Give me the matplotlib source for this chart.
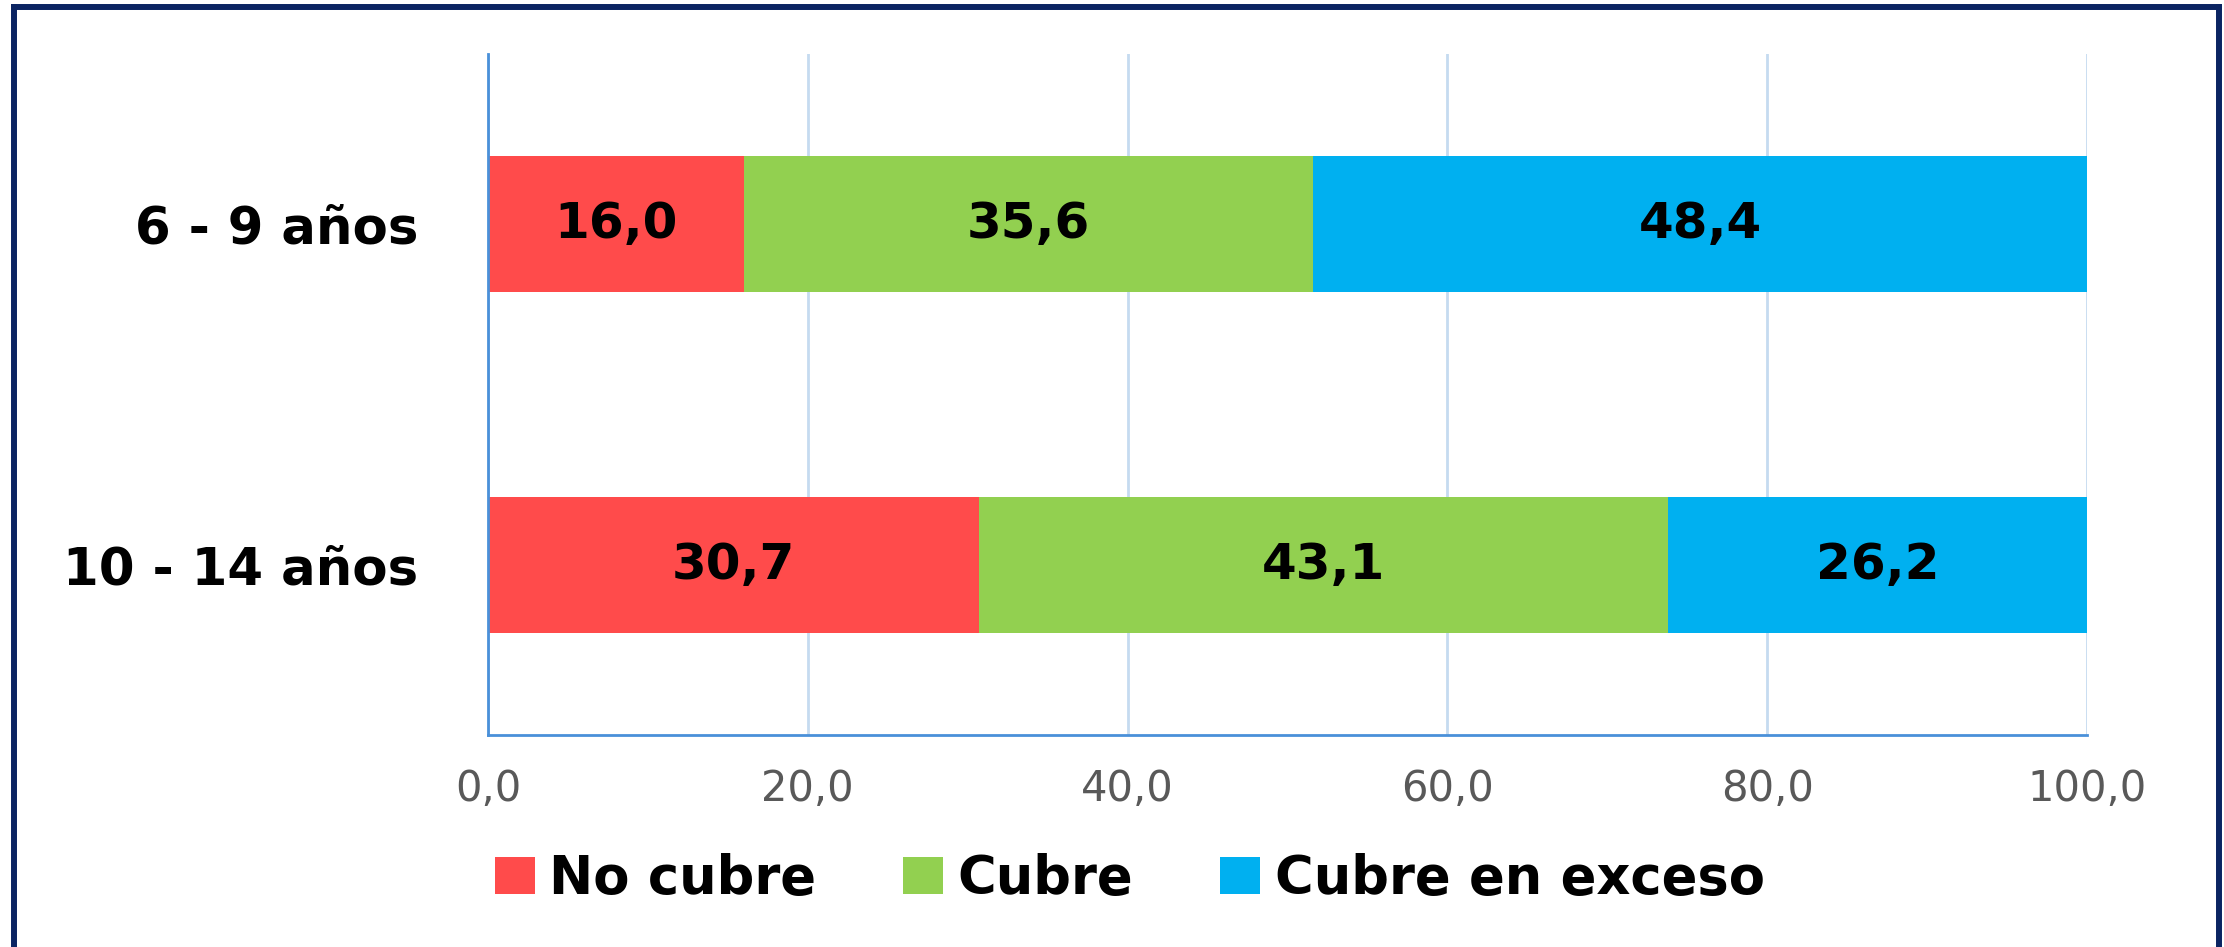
import matplotlib.pyplot as plt
from matplotlib.lines import Line2D

# datos
grupos = ['6 - 9 años', '10 - 14 años']
series = ['No cubre', 'Cubre', 'Cubre en exceso']
no_cubre = [16.0, 30.7]
cubre = [35.6, 43.1]
exceso = [48.4, 26.2]
colores = ['#FF4B4B', '#92D050', '#00B0F0']
ticks_x = [0, 20, 40, 60, 80, 100]

plt.rcParams['font.family'] = 'DejaVu Sans'

fig = plt.figure(figsize=(22.24, 9.47), dpi=100)
ax = fig.add_axes([0.2194, 0.2239, 0.7190, 0.7191])

y = [1, 0]  # primer grupo arriba
izq = [0, 0]
for nombre, vals, col in zip(series, [no_cubre, cubre, exceso], colores):
    barras = ax.barh(y, vals, left=izq, height=0.4, color=col, label=nombre, zorder=2)
    for b, v in zip(barras, vals):
        ax.text(b.get_x() + b.get_width() / 2, b.get_y() + b.get_height() / 2,
                f'{v:.1f}'.replace('.', ','), ha='center', va='center',
                fontsize=36, fontweight='bold', color='black', zorder=3)
    izq = [a + b for a, b in zip(izq, vals)]

ax.set_xlim(0, 100)
ax.set_ylim(-0.5, 1.5)
ax.set_xticks(ticks_x)
ax.set_xticklabels([f'{t:.1f}'.replace('.', ',') for t in ticks_x])
ax.set_yticks(y)
ax.set_yticklabels(grupos, fontsize=37, fontweight='bold')
ax.tick_params(axis='x', length=0, pad=24, labelsize=30, labelcolor='#595959')
ax.tick_params(axis='y', length=0, pad=50)

ax.grid(axis='x', color='#C5DBF0', linewidth=2)
ax.set_axisbelow(True)
for s in ['top', 'right']:
    ax.spines[s].set_visible(False)
for s in ['left', 'bottom']:
    ax.spines[s].set_color('#4A90D9')
    ax.spines[s].set_linewidth(2)

fig.legend(loc='center', bbox_to_anchor=(0.508, 1 - 879 / 947), ncol=3,
           frameon=False, prop={'size': 38, 'weight': 'bold'},
           handlelength=0.76, handleheight=0.7, handletextpad=0.27,
           columnspacing=1.65)

# marco azul oscuro
marco = '#0B2462'
fig.add_artist(Line2D([14 / 2224, 14 / 2224], [0, 1 - 7 / 947], color=marco, lw=4.3,
                      transform=fig.transFigure))
fig.add_artist(Line2D([14 / 2224, 2219 / 2224], [1 - 7 / 947, 1 - 7 / 947], color=marco, lw=4.3,
                      transform=fig.transFigure))
fig.add_artist(Line2D([2219 / 2224, 2219 / 2224], [0, 1 - 7 / 947], color=marco, lw=4.3,
                      transform=fig.transFigure))

fig.savefig('out.png', dpi=100)
